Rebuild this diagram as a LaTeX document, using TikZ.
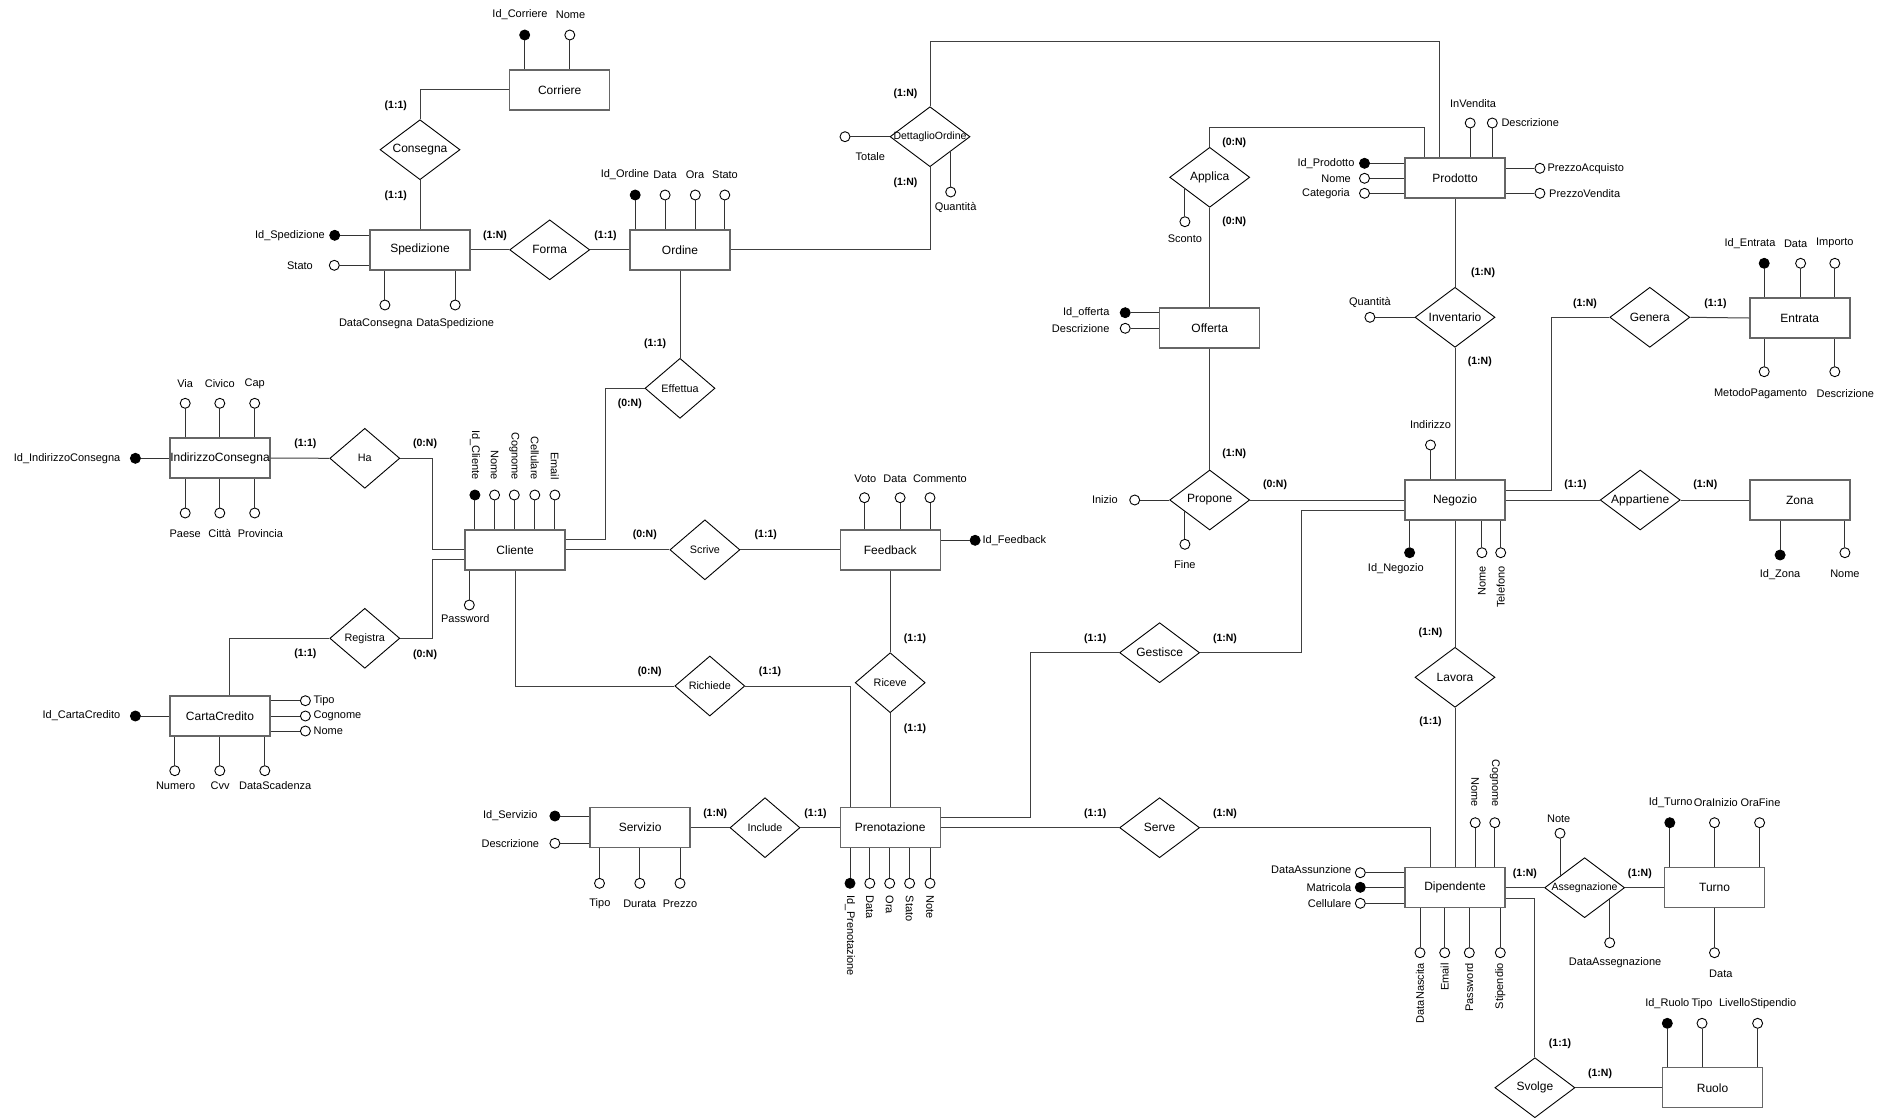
\documentclass[tikz,border=0pt]{standalone}
\usepackage{fontspec}
\setmainfont{Liberation Sans}
\usetikzlibrary{shapes.geometric}
\begin{document}
\begin{tikzpicture}[x=1pt,y=-1pt,
  ent/.style={draw=black!60, line width=1.4pt, minimum width=100pt, minimum height=40pt, inner sep=0pt, fill=white, font=\fontsize{12}{14}\selectfont},
  rel/.style={diamond, draw=black, line width=0.9pt, minimum width=80pt, minimum height=60pt, inner sep=0pt, fill=white},
  srel/.style={rel, minimum width=70pt},
  rtxt/.style={inner sep=0pt, font=\fontsize{12}{14}\selectfont},
  stxt/.style={inner sep=0pt, font=\fontsize{10.8}{12}\selectfont},
  ttxt/.style={inner sep=0pt, font=\fontsize{10.5}{12}\selectfont},
  att/.style={circle, draw=black, line width=0.9pt, fill=white, minimum size=10pt, inner sep=0pt},
  key/.style={att, fill=black},
  atxt/.style={inner sep=1pt, font=\fontsize{11}{12}\selectfont},
  card/.style={inner sep=0pt, font=\bfseries\fontsize{10.5}{12}\selectfont},
  conn/.style={draw=black!75, line width=1pt},
  aln/.style={draw=black!80, line width=0.9pt}]
\fill[white] (0,0) rectangle (1885,1119);
\useasboundingbox (0,0) rectangle (1885,1119);

% ---------- entities ----------
\node[ent] (corriere) at (559.7,89.8) {Corriere};
\node[ent] (spedizione) at (420,249.8) {Spedizione};
\node[ent] (ordine) at (680,249.8) {Ordine};
\node[ent] (prodotto) at (1455,178) {Prodotto};
\node[ent] (offerta) at (1209.7,327.8) {Offerta};
\node[ent] (entrata) at (1799.8,318) {Entrata};
\node[ent] (indirizzo) at (220,458) {IndirizzoConsegna};
\node[ent] (cliente) at (515.1,549.8) {Cliente};
\node[ent] (feedback) at (890.2,549.8) {Feedback};
\node[ent] (negozio) at (1455,500) {Negozio};
\node[ent] (zona) at (1799.8,500) {Zona};
\node[ent] (carta) at (220,716) {CartaCredito};
\node[ent] (servizio) at (640.1,827.7) {Servizio};
\node[ent] (prenotazione) at (890.2,827.7) {Prenotazione};
\node[ent] (dipendente) at (1455,887.7) {Dipendente};
\node[ent] (turno) at (1714.6,887.7) {Turno};
\node[ent] (ruolo) at (1712.5,1087.7) {Ruolo};

% ---------- relationships ----------
\node[rel, label={[rtxt]center:Consegna}] (consegna) at (420,149.7) {};
\node[rel, label={[rtxt]center:Forma}] (forma) at (549.7,249.8) {};
\node[rel, label={[ttxt]center:DettaglioOrdine}] (dettaglio) at (930,136.7) {};
\node[rel, label={[rtxt]center:Applica}] (applica) at (1209.7,177.3) {};
\node[rel, label={[rtxt]center:Inventario}] (inventario) at (1455,317.3) {};
\node[rel, label={[rtxt]center:Genera}] (genera) at (1649.8,317.3) {};
\node[srel, label={[stxt]center:Ha}] (ha) at (364.8,458.3) {};
\node[srel, label={[stxt]center:Registra}] (registra) at (364.8,638.3) {};
\node[srel, label={[stxt]center:Effettua}] (effettua) at (680,388.3) {};
\node[srel, label={[stxt]center:Scrive}] (scrive) at (704.9,549.8) {};
\node[srel, label={[stxt]center:Richiede}] (richiede) at (709.8,686) {};
\node[srel, label={[stxt]center:Riceve}] (riceve) at (890.2,682.7) {};
\node[rel, label={[rtxt]center:Propone}] (propone) at (1209.7,500) {};
\node[rel, label={[rtxt]center:Gestisce}] (gestisce) at (1159.6,652.7) {};
\node[srel, label={[stxt]center:Include}] (include) at (765,827.7) {};
\node[rel, label={[rtxt]center:Serve}] (serve) at (1159.6,827.7) {};
\node[rel, label={[rtxt]center:Lavora}] (lavora) at (1455,677.3) {};
\node[rel, label={[rtxt]center:Appartiene}] (appartiene) at (1640.2,500) {};
\node[rel, label={[ttxt]center:Assegnazione}] (assegnazione) at (1584.6,887.7) {};
\node[rel, label={[rtxt]center:Svolge}] (svolge) at (1534.9,1087.7) {};

% ---------- connectors ----------
\draw[conn] (corriere.west) -| (consegna.north);
\draw[conn] (consegna.south) -- (spedizione.north);
\draw[conn] (spedizione.east) -- (forma.west);
\draw[conn] (forma.east) -- (ordine.west);
\draw[conn] (ordine.east) -| (dettaglio.south);
\draw[conn] (dettaglio.north) -- ++(0,-64.6) -| ([xshift=-15.3pt]prodotto.north);
\draw[conn] (applica.north) -- ++(0,-19.7) -| ([xshift=-30.4pt]prodotto.north);
\draw[conn] (applica.south) -- (offerta.north);
\draw[conn] (offerta.south) -- (propone.north);
\draw[conn] (prodotto.south) -- (inventario.north);
\draw[conn] (inventario.south) -- (negozio.north);
\draw[conn] (genera.west) -| ([xshift=45.3pt,yshift=10pt]negozio.east) -- ([yshift=10pt]negozio.east);
\draw[conn] (genera.east) -- (entrata.west);
\draw[conn] (propone.east) -- (negozio.west);
\draw[conn] (negozio.east) -- (appartiene.west);
\draw[conn] (appartiene.east) -- (zona.west);
\draw[conn] (gestisce.east) -| ([xshift=-102.4pt,yshift=-10pt]negozio.west) -- ([yshift=-10pt]negozio.west);
\draw[conn] (gestisce.west) -| ([xshift=89.6pt,yshift=10pt]prenotazione.east) -- ([yshift=10pt]prenotazione.east);
\draw[conn] (negozio.south) -- (lavora.north);
\draw[conn] (lavora.south) -- (dipendente.north);
\draw[conn] (prenotazione.east) -- (serve.west);
\draw[conn] (serve.east) -| ([xshift=-25pt]dipendente.north);
\draw[conn] (dipendente.east) -- (assegnazione.west);
\draw[conn] (assegnazione.east) -- (turno.west);
\draw[conn] ([yshift=-10.6pt]dipendente.east) -| (svolge.north);
\draw[conn] (svolge.east) -- (ruolo.west);
\draw[conn] (indirizzo.east) -- (ha.west);
\draw[conn] (ha.east) -- ++(32.5,0) |- (cliente.west);
\draw[conn] (registra.east) -- ++(32.5,0) |- ([yshift=-10pt]cliente.west);
\draw[conn] ([xshift=9.8pt]carta.north) |- (registra.west);
\draw[conn] ([yshift=10pt]cliente.east) -- ++(39.5,0) |- (effettua.west);
\draw[conn] (ordine.south) -- (effettua.north);
\draw[conn] (cliente.east) -- (scrive.west);
\draw[conn] (scrive.east) -- (feedback.west);
\draw[conn] (cliente.south) |- (richiede.west);
\draw[conn] (richiede.east) -| ([xshift=-40pt]prenotazione.north);
\draw[conn] (feedback.south) -- (riceve.north);
\draw[conn] (riceve.south) -- (prenotazione.north);
\draw[conn] (servizio.east) -- (include.west);
\draw[conn] (include.east) -- (prenotazione.west);

% ---------- cardinalities ----------
\node[card] (k01) at (395.8,106) {(1:1)};
\node[card] (k02) at (395.8,195.7) {(1:1)};
\node[card] (k03) at (495,235.3) {(1:N)};
\node[card] (k04) at (605.5,235.3) {(1:1)};
\node[card] (k05) at (905.5,94) {(1:N)};
\node[card] (k06) at (905.5,182.7) {(1:N)};
\node[card] (k07) at (1234.2,142.3) {(0:N)};
\node[card] (k08) at (1234.2,221.7) {(0:N)};
\node[card] (k09) at (1483.1,272.3) {(1:N)};
\node[card] (k10) at (1479.8,361.7) {(1:N)};
\node[card] (k11) at (1585,304) {(1:N)};
\node[card] (k12) at (1715.4,304) {(1:1)};
\node[card] (k13) at (305.4,443.3) {(1:1)};
\node[card] (k14) at (425.1,443.3) {(0:N)};
\node[card] (k15) at (655.1,343.3) {(1:1)};
\node[card] (k16) at (629.8,403.3) {(0:N)};
\node[card] (k17) at (305.4,653.3) {(1:1)};
\node[card] (k18) at (425.1,655) {(0:N)};
\node[card] (k19) at (644.8,535) {(0:N)};
\node[card] (k20) at (765.8,535) {(1:1)};
\node[card] (k21) at (915,638.3) {(1:1)};
\node[card] (k22) at (915,728.3) {(1:1)};
\node[card] (k23) at (649.7,671.7) {(0:N)};
\node[card] (k24) at (770,671.7) {(1:1)};
\node[card] (k25) at (1234.2,454) {(1:N)};
\node[card] (k26) at (1275.1,484.3) {(0:N)};
\node[card] (k27) at (1575.4,484.3) {(1:1)};
\node[card] (k28) at (1705.3,484.3) {(1:N)};
\node[card] (k29) at (1095.3,638.3) {(1:1)};
\node[card] (k30) at (1225,638.3) {(1:N)};
\node[card] (k31) at (1430.5,632.3) {(1:N)};
\node[card] (k32) at (1430.5,721.7) {(1:1)};
\node[card] (k33) at (715.2,813.3) {(1:N)};
\node[card] (k34) at (815.5,813.3) {(1:1)};
\node[card] (k35) at (1095.3,813.3) {(1:1)};
\node[card] (k36) at (1225,813.3) {(1:N)};
\node[card] (k37) at (1524.9,873.3) {(1:N)};
\node[card] (k38) at (1639.8,873.3) {(1:N)};
\node[card] (k39) at (1560,1043.3) {(1:1)};
\node[card] (k40) at (1600.1,1073.3) {(1:N)};

% ---------- attributes: Corriere ----------
\node[key] (co1) at (524.7,35) {};
\node[att] (co2) at (569.8,35) {};
\draw[aln] (co1) -- (co1 |- corriere.north);
\draw[aln] (co2) -- (co2 |- corriere.north);
\node[atxt] (tco1) at (520,15) {Id\_Corriere};
\node[atxt] (tco2) at (570.5,15) {Nome};

% ---------- Spedizione ----------
\node[key] (sp1) at (334.7,235.3) {};
\node[att] (sp2) at (334.3,265.3) {};
\node[att] (sp3) at (384.9,305) {};
\node[att] (sp4) at (455.2,305) {};
\draw[aln] (sp1) -- (sp1 -| spedizione.west);
\draw[aln] (sp2) -- (sp2 -| spedizione.west);
\draw[aln] (sp3) -- (sp3 |- spedizione.south);
\draw[aln] (sp4) -- (sp4 |- spedizione.south);
\node[atxt, anchor=east] (tsp1) at (326,235.3) {Id\_Spedizione};
\node[atxt] (tsp2) at (300,265.3) {Stato};
\node[atxt] (tsp3) at (375.7,323.3) {DataConsegna};
\node[atxt] (tsp4) at (455.2,323.3) {DataSpedizione};

% ---------- Ordine ----------
\node[key] (or1) at (635.2,195) {};
\node[att] (or2) at (665.1,195) {};
\node[att] (or3) at (695.3,195) {};
\node[att] (or4) at (724.8,195) {};
\foreach \i in {or1,or2,or3,or4} \draw[aln] (\i) -- (\i |- ordine.north);
\node[atxt] (tor1) at (624.9,175) {Id\_Ordine};
\node[atxt] (tor2) at (665,175) {Data};
\node[atxt] (tor3) at (695,175) {Ora};
\node[atxt] (tor4) at (725,175) {Stato};

% ---------- DettaglioOrdine ----------
\node[att] (de1) at (845,136.7) {};
\draw[aln] (de1) -- (dettaglio.west);
\node[atxt] (tde1) at (870.3,156.7) {Totale};
\node[att] (de2) at (950.7,192) {};
\draw[aln] (de2.north) -- ++(0,-35.5);
\node[atxt] (tde2) at (955.6,207.3) {Quantità};

% ---------- Applica ----------
\node[att] (ap1) at (1184.9,221.7) {};
\draw[aln] (ap1.north) -- ++(0,-28);
\node[atxt] (tap1) at (1184.9,238.3) {Sconto};

% ---------- Prodotto ----------
\node[att] (pr1) at (1470.2,123) {};
\node[att] (pr2) at (1492.3,123) {};
\draw[aln] (pr1) -- (pr1 |- prodotto.north);
\draw[aln] (pr2) -- (pr2 |- prodotto.north);
\node[atxt] (tpr1) at (1473.1,103.3) {InVendita};
\node[atxt, anchor=west] (tpr2) at (1500.3,123) {Descrizione};
\node[key] (pr3) at (1364.5,163.3) {};
\node[att] (pr4) at (1364.5,178.3) {};
\node[att] (pr5) at (1364.5,193.3) {};
\foreach \i in {pr3,pr4,pr5} \draw[aln] (\i) -- (\i -| prodotto.west);
\node[atxt, anchor=east] (tpr3) at (1355.6,163.3) {Id\_Prodotto};
\node[atxt, anchor=east] (tpr4) at (1352,178.3) {Nome};
\node[atxt, anchor=east] (tpr5) at (1351,193.3) {Categoria};
\node[att] (pr6) at (1539.9,168.3) {};
\node[att] (pr7) at (1539.9,193.3) {};
\draw[aln] (pr6) -- (pr6 -| prodotto.east);
\draw[aln] (pr7) -- (pr7 -| prodotto.east);
\node[atxt, anchor=west] (tpr6) at (1546.3,168.3) {PrezzoAcquisto};
\node[atxt, anchor=west] (tpr7) at (1548,193.3) {PrezzoVendita};

% ---------- Offerta ----------
\node[key] (of1) at (1125.2,312.7) {};
\node[att] (of2) at (1125.2,328.3) {};
\draw[aln] (of1) -- (of1 -| offerta.west);
\draw[aln] (of2) -- (of2 -| offerta.west);
\node[atxt, anchor=east] (tof1) at (1110.6,312.7) {Id\_offerta};
\node[atxt, anchor=east] (tof2) at (1110.6,328.3) {Descrizione};

% ---------- Inventario ----------
\node[att] (in1) at (1369.9,317.3) {};
\draw[aln] (in1) -- (inventario.west);
\node[atxt] (tin1) at (1369.9,302.3) {Quantità};

% ---------- Entrata ----------
\node[key] (en1) at (1764.2,263.3) {};
\node[att] (en2) at (1800.6,263.3) {};
\node[att] (en3) at (1834.8,263.3) {};
\foreach \i in {en1,en2,en3} \draw[aln] (\i) -- (\i |- entrata.north);
\node[atxt] (ten1) at (1750,243.3) {Id\_Entrata};
\node[atxt] (ten2) at (1795.6,243.3) {Data};
\node[atxt] (ten3) at (1834.8,243.3) {Importo};
\node[att] (en4) at (1764.2,371.7) {};
\node[att] (en5) at (1834.8,371.7) {};
\draw[aln] (en4) -- (en4 |- entrata.south);
\draw[aln] (en5) -- (en5 |- entrata.south);
\node[atxt] (ten4) at (1760.5,393.3) {MetodoPagamento};
\node[atxt] (ten5) at (1845.3,393.3) {Descrizione};

% ---------- IndirizzoConsegna ----------
\node[att] (ic1) at (185.2,403.3) {};
\node[att] (ic2) at (219.8,403.3) {};
\node[att] (ic3) at (254.7,403.3) {};
\foreach \i in {ic1,ic2,ic3} \draw[aln] (\i) -- (\i |- indirizzo.north);
\node[atxt] (tic1) at (185.2,383.3) {Via};
\node[atxt] (tic2) at (219.8,383.3) {Civico};
\node[atxt] (tic3) at (254.7,383.3) {Cap};
\node[att] (ic4) at (185.2,513) {};
\node[att] (ic5) at (219.8,513) {};
\node[att] (ic6) at (254.7,513) {};
\foreach \i in {ic4,ic5,ic6} \draw[aln] (\i) -- (\i |- indirizzo.south);
\node[atxt] (tic4) at (185.2,533.3) {Paese};
\node[atxt] (tic5) at (219.8,533.3) {Città};
\node[atxt] (tic6) at (260.4,533.3) {Provincia};
\node[key] (ic7) at (135.4,458.3) {};
\draw[aln] (ic7) -- (ic7 -| indirizzo.west);
\node[atxt, anchor=east] (tic7) at (121.5,458.3) {Id\_IndirizzoConsegna};

% ---------- Cliente ----------
\node[key] (cl1) at (474.9,495) {};
\node[att] (cl2) at (494.6,495) {};
\node[att] (cl3) at (514.3,495) {};
\node[att] (cl4) at (534.8,495) {};
\node[att] (cl5) at (554.9,495) {};
\foreach \i in {cl1,cl2,cl3,cl4,cl5} \draw[aln] (\i) -- (\i |- cliente.north);
\node[atxt, rotate=-90, anchor=east] (tcl1) at (474.9,481) {Id\_Cliente};
\node[atxt, rotate=-90, anchor=east] (tcl2) at (494.6,481) {Nome};
\node[atxt, rotate=-90, anchor=east] (tcl3) at (514.3,481) {Cognome};
\node[atxt, rotate=-90, anchor=east] (tcl4) at (534.8,481) {Cellulare};
\node[atxt, rotate=-90, anchor=east] (tcl5) at (554.9,481) {Email};
\node[att] (cl6) at (469.3,605) {};
\draw[aln] (cl6) -- (cl6 |- cliente.south);
\node[atxt] (tcl6) at (465.3,618.3) {Password};

% ---------- Feedback ----------
\node[att] (fb1) at (864.5,497.7) {};
\node[att] (fb2) at (900.1,497.7) {};
\node[att] (fb3) at (930,497.7) {};
\foreach \i in {fb1,fb2,fb3} \draw[aln] (\i) -- (\i |- feedback.north);
\node[atxt] (tfb1) at (865.3,478.3) {Voto};
\node[atxt] (tfb2) at (895.1,478.3) {Data};
\node[atxt] (tfb3) at (939.9,478.3) {Commento};
\node[key] (fb4) at (975.1,540.3) {};
\draw[aln] (fb4) -- (fb4 -| feedback.east);
\node[atxt, anchor=west] (tfb4) at (981.4,540.3) {Id\_Feedback};

% ---------- Propone ----------
\node[att] (po1) at (1134.7,500) {};
\draw[aln] (po1) -- (propone.west);
\node[atxt] (tpo1) at (1104.9,500) {Inizio};
\node[att] (po2) at (1184.9,544.3) {};
\draw[aln] (po2.north) -- ++(0,-28);
\node[atxt] (tpo2) at (1184.9,565) {Fine};

% ---------- Negozio ----------
\node[att] (ne1) at (1430.5,445) {};
\draw[aln] (ne1) -- (ne1 |- negozio.north);
\node[atxt] (tne1) at (1430.5,425) {Indirizzo};
\node[key] (ne2) at (1409.6,552.7) {};
\node[att] (ne3) at (1481.9,552.7) {};
\node[att] (ne4) at (1500.7,552.7) {};
\foreach \i in {ne2,ne3,ne4} \draw[aln] (\i) -- (\i |- negozio.south);
\node[atxt] (tne2) at (1395.8,568.3) {Id\_Negozio};
\node[atxt, rotate=90, anchor=east] (tne3) at (1481.9,565) {Nome};
\node[atxt, rotate=90, anchor=east] (tne4) at (1500.7,565) {Telefono};

% ---------- Zona ----------
\node[key] (zo1) at (1780.1,555) {};
\node[att] (zo2) at (1844.9,552.7) {};
\draw[aln] (zo1) -- (zo1 |- zona.south);
\draw[aln] (zo2) -- (zo2 |- zona.south);
\node[atxt] (tzo1) at (1780.1,575) {Id\_Zona};
\node[atxt] (tzo2) at (1844.9,573.3) {Nome};

% ---------- CartaCredito ----------
\node[att] (cc1) at (305.4,700.7) {};
\node[att] (cc2) at (305.4,716) {};
\node[att] (cc3) at (305.4,731) {};
\foreach \i in {cc1,cc2,cc3} \draw[aln] (\i) -- (\i -| carta.east);
\node[atxt, anchor=west] (tcc1) at (312.4,700.7) {Tipo};
\node[atxt, anchor=west] (tcc2) at (312.4,716) {Cognome};
\node[atxt, anchor=west] (tcc3) at (312.4,731) {Nome};
\node[key] (cc4) at (135.4,716) {};
\draw[aln] (cc4) -- (cc4 -| carta.west);
\node[atxt, anchor=east] (tcc4) at (121.5,716) {Id\_CartaCredito};
\node[att] (cc5) at (174.8,770.7) {};
\node[att] (cc6) at (219.8,770.7) {};
\node[att] (cc7) at (264.8,770.7) {};
\foreach \i in {cc5,cc6,cc7} \draw[aln] (\i) -- (\i |- carta.south);
\node[atxt] (tcc5) at (175.6,786) {Numero};
\node[atxt] (tcc6) at (220.2,786) {Cvv};
\node[atxt] (tcc7) at (275.2,786) {DataScadenza};

% ---------- Servizio ----------
\node[key] (se1) at (554.9,816) {};
\node[att] (se2) at (554.9,843.3) {};
\draw[aln] (se1) -- (se1 -| servizio.west);
\draw[aln] (se2) -- (se2 -| servizio.west);
\node[atxt] (tse1) at (510.3,816) {Id\_Servizio};
\node[atxt] (tse2) at (510.3,843.3) {Descrizione};
\node[att] (se3) at (599.5,883.3) {};
\node[att] (se4) at (639.8,883.3) {};
\node[att] (se5) at (680,883.3) {};
\foreach \i in {se3,se4,se5} \draw[aln] (\i) -- (\i |- servizio.south);
\node[atxt] (tse3) at (599.9,903.3) {Tipo};
\node[atxt] (tse4) at (639.8,903.3) {Durata};
\node[atxt] (tse5) at (680,903.3) {Prezzo};

% ---------- Prenotazione ----------
\node[key] (pn1) at (850,883.3) {};
\node[att] (pn2) at (869.8,883.3) {};
\node[att] (pn3) at (889.7,883.3) {};
\node[att] (pn4) at (909.6,883.3) {};
\node[att] (pn5) at (930,883.3) {};
\foreach \i in {pn1,pn2,pn3,pn4,pn5} \draw[aln] (\i) -- (\i |- prenotazione.south);
\node[atxt, rotate=-90, anchor=west] (tpn1) at (850,894.5) {Id\_Prenotazione};
\node[atxt, rotate=-90, anchor=west] (tpn2) at (869.8,894.5) {Data};
\node[atxt, rotate=-90, anchor=west] (tpn3) at (889.7,894.5) {Ora};
\node[atxt, rotate=-90, anchor=west] (tpn4) at (909.6,894.5) {Stato};
\node[atxt, rotate=-90, anchor=west] (tpn5) at (930,894.5) {Note};

% ---------- Dipendente ----------
\node[att] (di1) at (1475.2,822.7) {};
\node[att] (di2) at (1494.8,822.7) {};
\draw[aln] (di1) -- (di1 |- dipendente.north);
\draw[aln] (di2) -- (di2 |- dipendente.north);
\node[atxt, rotate=-90, anchor=east] (tdi1) at (1475.2,808) {Nome};
\node[atxt, rotate=-90, anchor=east] (tdi2) at (1494.8,808) {Cognome};
\node[att] (di3) at (1360.3,872.7) {};
\node[key] (di4) at (1360.3,887.3) {};
\node[att] (di5) at (1360.3,903.3) {};
\foreach \i in {di3,di4,di5} \draw[aln] (\i) -- (\i -| dipendente.west);
\node[atxt, anchor=east] (tdi3) at (1352.5,869.5) {DataAssunzione};
\node[atxt, anchor=east] (tdi4) at (1352.5,887.3) {Matricola};
\node[atxt, anchor=east] (tdi5) at (1352.5,903.3) {Cellulare};
\node[att] (di6) at (1420,952.7) {};
\node[att] (di7) at (1444.7,952.7) {};
\node[att] (di8) at (1469.3,952.7) {};
\node[att] (di9) at (1500.3,952.7) {};
\foreach \i in {di6,di7,di8,di9} \draw[aln] (\i) -- (\i |- dipendente.south);
\node[atxt, rotate=90, anchor=east] (tdi6) at (1420,962) {DataNascita};
\node[atxt, rotate=90, anchor=east] (tdi7) at (1444.7,962) {Email};
\node[atxt, rotate=90, anchor=east] (tdi8) at (1469.3,962) {Password};
\node[atxt, rotate=90, anchor=east] (tdi9) at (1500.3,962) {Stipendio};

% ---------- Assegnazione ----------
\node[att] (as1) at (1560,833.3) {};
\draw[aln] (as1.south) -- ++(0,37.9);
\node[atxt] (tas1) at (1558.7,819) {Note};
\node[att] (as2) at (1609.7,942.7) {};
\draw[aln] (as2.north) -- ++(0,-38.8);
\node[atxt] (tas2) at (1615.1,962.7) {DataAssegnazione};

% ---------- Turno ----------
\node[key] (tu1) at (1669.8,822.7) {};
\node[att] (tu2) at (1714.5,822.7) {};
\node[att] (tu3) at (1759.6,822.7) {};
\foreach \i in {tu1,tu2,tu3} \draw[aln] (\i) -- (\i |- turno.north);
\node[atxt] (ttu1) at (1670.7,802.7) {Id\_Turno};
\node[atxt] (ttu2) at (1715.8,802.7) {OraInizio};
\node[atxt] (ttu3) at (1760.5,802.7) {OraFine};
\node[att] (tu4) at (1714.5,952.7) {};
\draw[aln] (tu4) -- (tu4 |- turno.south);
\node[atxt] (ttu4) at (1720.8,973.3) {Data};

% ---------- Ruolo ----------
\node[key] (ru1) at (1667.3,1023.3) {};
\node[att] (ru2) at (1702,1023.3) {};
\node[att] (ru3) at (1757.6,1023.3) {};
\foreach \i in {ru1,ru2,ru3} \draw[aln] (\i) -- (\i |- ruolo.north);
\node[atxt] (tru1) at (1667.3,1003.3) {Id\_Ruolo};
\node[atxt] (tru2) at (1702,1003.3) {Tipo};
\node[atxt] (tru3) at (1757.6,1003.3) {LivelloStipendio};
\end{tikzpicture}
\end{document}
